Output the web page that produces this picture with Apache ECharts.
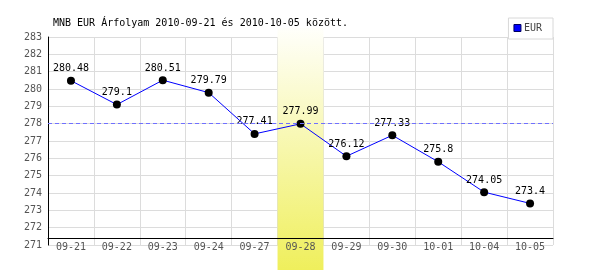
<!DOCTYPE html>
<html>
<head>
<meta charset="utf-8">
<script src="https://cdn.jsdelivr.net/npm/echarts@6/dist/echarts.min.js"></script>
<style>html,body{margin:0;padding:0;background:#fff;}#c{width:600px;height:270px;}</style>
</head>
<body>
<div id="c"></div>
<script>
const titleText = 'MNB EUR Árfolyam 2010-09-21 és 2010-10-05 között.';
const seriesName = 'EUR';
const categories = ['09-21','09-22','09-23','09-24','09-27','09-28','09-29','09-30','10-01','10-04','10-05'];
const values = [280.48, 279.1, 280.51, 279.79, 277.41, 277.99, 276.12, 277.33, 275.8, 274.05, 273.4];
const yMin = 271, yMax = 283, yStep = 1;
const refLine = 278;
const highlightCategory = '09-28';

const mono = 'DejaVu Sans Mono';
const bandData = categories.map(c => c === highlightCategory ? 1 : null);

const chart = echarts.init(document.getElementById('c'), null, {renderer: 'canvas'});
chart.setOption({
  animation: false,
  backgroundColor: '#ffffff',
  title: {
    text: titleText, left: 53, top: 18, padding: 0,
    textStyle: {fontFamily: mono, fontSize: 10, fontWeight: 'normal', color: '#000'}
  },
  legend: {
    right: 47, top: 18,
    padding: [4, 11, 5, 5],
    borderColor: '#d8d8d8', borderWidth: 1, backgroundColor: '#fff',
    itemWidth: 7, itemHeight: 7, itemGap: 4,
    lineStyle: {opacity: 0},
    data: [{name: seriesName, icon: 'rect', itemStyle: {color: '#0000ff', borderColor: '#000060', borderWidth: 1}}],
    textStyle: {fontFamily: mono, fontSize: 10, color: '#444', lineHeight: 12, padding: [0,0,0,-2]}
  },
  grid: [
    {left: 48, right: 47, top: 37, bottom: 25},
    {left: 48, right: 47, top: 28, bottom: 0}
  ],
  xAxis: [
    {type: 'category', gridIndex: 0, data: categories, boundaryGap: true, z: 0,
     axisLine: {show: false}, axisTick: {show: false}, axisLabel: {show: false},
     splitLine: {show: true, lineStyle: {color: '#dcdcdc', width: 1}}},
    {type: 'category', gridIndex: 0, data: categories, boundaryGap: true, z: 3,
     position: 'bottom', offset: -7,
     axisLine: {show: true, lineStyle: {color: '#000', width: 1}}, axisTick: {show: false},
     axisLabel: {show: true, margin: 4, fontFamily: mono, fontSize: 10, color: '#555', interval: 0},
     splitLine: {show: false}},
    {type: 'category', gridIndex: 1, data: categories, boundaryGap: true, show: false}
  ],
  yAxis: [
    {type: 'value', gridIndex: 0, min: yMin, max: yMax, interval: yStep, z: 0, position: 'left',
     axisLine: {show: false}, axisTick: {show: false}, axisLabel: {show: false},
     splitLine: {show: true, lineStyle: {color: '#dcdcdc', width: 1}}},
    {type: 'value', gridIndex: 0, min: yMin, max: yMax, interval: yStep, z: 3, position: 'left',
     axisLine: {show: true, lineStyle: {color: '#000', width: 1}}, axisTick: {show: false},
     axisLabel: {show: true, margin: 6, fontFamily: mono, fontSize: 10, color: '#555'},
     splitLine: {show: false}},
    {type: 'value', gridIndex: 1, min: 0, max: 1, show: false}
  ],
  series: [
    {
      name: 'ref', type: 'line', xAxisIndex: 0, yAxisIndex: 0, data: [], z: 1,
      silent: true, showSymbol: false, color: '#7070ff',
      markLine: {
        silent: true, symbol: ['none', 'none'], label: {show: false},
        lineStyle: {color: '#7070ff', type: [4, 3], width: 1},
        data: [{yAxis: refLine}]
      }
    },
    {
      name: 'band', type: 'bar', xAxisIndex: 2, yAxisIndex: 2, data: bandData, z: 2,
      barWidth: '100%', silent: true,
      itemStyle: {color: new echarts.graphic.LinearGradient(0, 0, 0, 1, [
        {offset: 0, color: '#fffffb'}, {offset: 1, color: '#efef5c'}
      ])}
    },
    {
      name: seriesName, type: 'line', xAxisIndex: 0, yAxisIndex: 0, data: values, z: 4,
      symbol: 'circle', symbolSize: 8,
      lineStyle: {color: '#0000ff', width: 1},
      itemStyle: {color: '#000'},
      label: {show: true, position: 'top', distance: 3, fontFamily: mono, fontSize: 10, color: '#000'}
    }
  ]
});
</script>
</body>
</html>
